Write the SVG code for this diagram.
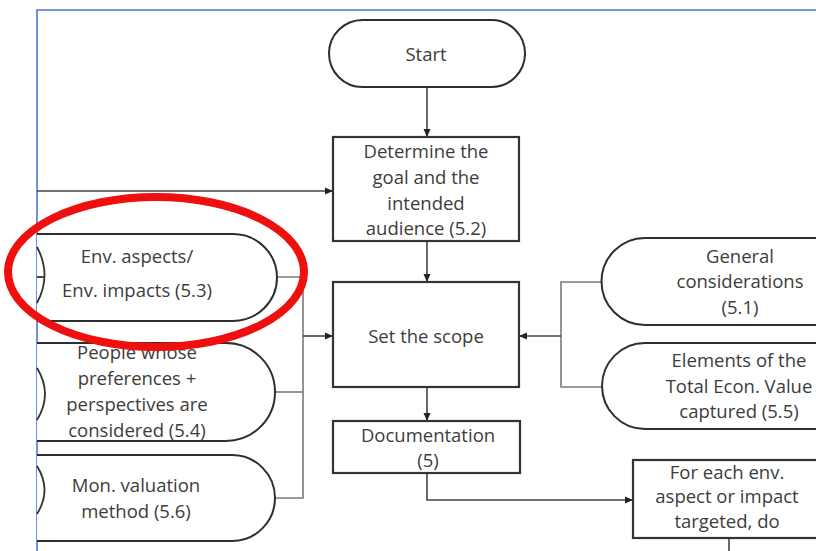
<svg xmlns="http://www.w3.org/2000/svg" width="816" height="551" viewBox="0 0 816 551">
  <style>
    .box { fill: #ffffff; stroke: #333333; stroke-width: 2.2; }
    .pill { fill: #ffffff; stroke: #2e2e2e; stroke-width: 2; }
    .wire { fill: none; stroke: #7a7a7a; stroke-width: 1.6; }
    .dark { fill: none; stroke: #444444; stroke-width: 1.6; }
    .lbl { font-family: "Open Sans", "Noto Sans", sans-serif; font-size: 18.5px; fill: #3c3c3c; text-anchor: middle; }
    .frame { fill: none; stroke: #4a78cf; stroke-width: 1.6; }
    .stub { fill: none; stroke: #333333; stroke-width: 1.8; }
  </style>
  <defs>
    <marker id="arrow" markerWidth="8" markerHeight="8" refX="7" refY="4" orient="auto" markerUnits="userSpaceOnUse">
      <path d="M0,0.5 L8,4 L0,7.5 Z" fill="#222222"/>
    </marker>
  </defs>

  <rect width="816" height="551" fill="#ffffff"/>

  <!-- page frame -->
  <path class="frame" d="M37,551 L37,10 L816,10"/>

  <!-- connectors -->
  <g id="connectors">
    <line class="dark" x1="427" y1="87" x2="427" y2="136" marker-end="url(#arrow)"/>
    <line class="dark" x1="37" y1="191" x2="332" y2="191" marker-end="url(#arrow)"/>
    <line class="dark" x1="427" y1="241" x2="427" y2="281" marker-end="url(#arrow)"/>
    <line class="dark" x1="427" y1="387" x2="427" y2="420" marker-end="url(#arrow)"/>
    <path class="dark" d="M427,473 L427,500 L632,500" marker-end="url(#arrow)"/>
    <line class="dark" x1="729" y1="538" x2="729" y2="551"/>
    <!-- inputs from the left -->
    <path class="wire" d="M277,277 L303,277 L303,498 L275,498"/>
    <line class="wire" x1="275" y1="392" x2="303" y2="392"/>
    <line class="dark" x1="303" y1="336" x2="332" y2="336" marker-end="url(#arrow)"/>
    <!-- inputs from the right -->
    <path class="wire" d="M602,282 L561,282 L561,387 L602,387"/>
    <line class="dark" x1="561" y1="336" x2="520" y2="336" marker-end="url(#arrow)"/>
  </g>

  <!-- process nodes -->
  <g id="start">
    <rect class="pill" x="329" y="20" width="196" height="67" rx="33.5"/>
    <text class="lbl" x="426" y="61">Start</text>
  </g>

  <g id="goal">
    <rect class="box" x="333" y="137" width="186" height="104"/>
    <text class="lbl" x="426" y="158">Determine the</text>
    <text class="lbl" x="426" y="184">goal and the</text>
    <text class="lbl" x="426" y="210">intended</text>
    <text class="lbl" x="426" y="235">audience (5.2)</text>
  </g>

  <g id="scope">
    <rect class="box" x="333" y="282" width="186" height="105"/>
    <text class="lbl" x="426" y="343">Set the scope</text>
  </g>

  <g id="documentation">
    <rect class="box" x="333" y="421" width="187" height="52"/>
    <text class="lbl" x="428" y="442">Documentation</text>
    <text class="lbl" x="428" y="467">(5)</text>
  </g>

  <g id="for-each">
    <rect class="box" x="633" y="460" width="190" height="78"/>
    <text class="lbl" x="727" y="479">For each env.</text>
    <text class="lbl" x="727" y="503">aspect or impact</text>
    <text class="lbl" x="727" y="528">targeted, do</text>
  </g>

  <!-- scope inputs, left side -->
  <g id="env-aspects">
    <path class="pill" d="M37,234 L233,234 A44,43.5 0 0 1 233,321 L37,321"/>
    <path class="stub" d="M37,247 Q52,275 37,303"/>
    <line class="stub" x1="37" y1="277" x2="44" y2="277"/>
    <text class="lbl" x="137" y="263">Env. aspects/</text>
    <text class="lbl" x="137" y="297">Env. impacts (5.3)</text>
  </g>

  <g id="people">
    <path class="pill" d="M37,343 L226,343 A49,49 0 0 1 226,441 L37,441"/>
    <path class="stub" d="M37,368 Q53,394 37,420"/>
    <text class="lbl" x="137" y="359">People whose</text>
    <text class="lbl" x="137" y="385">preferences +</text>
    <text class="lbl" x="137" y="411">perspectives are</text>
    <text class="lbl" x="137" y="437">considered (5.4)</text>
  </g>

  <g id="valuation-method">
    <path class="pill" d="M37,455 L232,455 A43,43 0 0 1 232,541 L37,541"/>
    <path class="stub" d="M37,466 Q52,490 37,514"/>
    <text class="lbl" x="136" y="492">Mon. valuation</text>
    <text class="lbl" x="136" y="518">method (5.6)</text>
  </g>

  <!-- scope inputs, right side -->
  <g id="general-considerations">
    <path class="pill" d="M830,238 L645,238 A43.5,43.5 0 0 0 645,325 L830,325"/>
    <text class="lbl" x="740" y="263">General</text>
    <text class="lbl" x="740" y="288">considerations</text>
    <text class="lbl" x="740" y="314">(5.1)</text>
  </g>

  <g id="tev-elements">
    <path class="pill" d="M830,343 L645,343 A43,43 0 0 0 645,429 L830,429"/>
    <text class="lbl" x="739" y="367">Elements of the</text>
    <text class="lbl" x="739" y="393">Total Econ. Value</text>
    <text class="lbl" x="739" y="418">captured (5.5)</text>
  </g>

  <!-- highlight ring -->
  <ellipse cx="156" cy="272" rx="148" ry="75" fill="none" stroke="#ee0f0f" stroke-width="8"/>
</svg>
